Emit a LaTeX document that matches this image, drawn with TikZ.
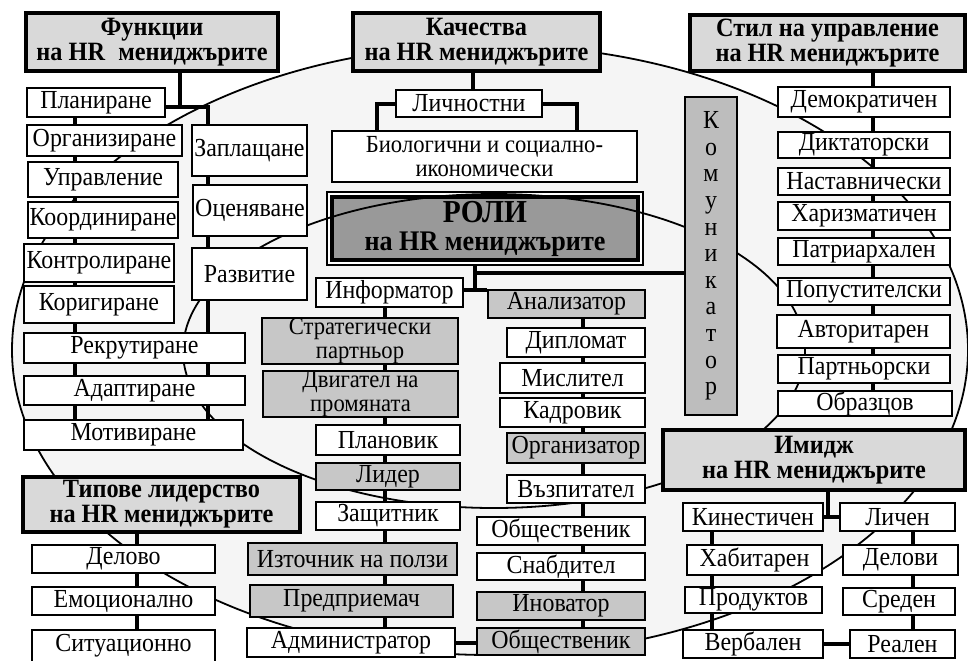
\documentclass[tikz,border=0pt]{standalone}
\usepackage{fontspec}
\setmainfont{Liberation Serif}[FakeStretch=0.92]

\definecolor{bggray}{gray}{0.96}
\definecolor{headgray}{gray}{0.85}
\definecolor{boxgray}{gray}{0.78}
\definecolor{komgray}{gray}{0.74}
\definecolor{rolgray}{gray}{0.60}

\pgfdeclarelayer{back}
\pgfdeclarelayer{lines}
\pgfsetlayers{back,lines,main}

\tikzset{
  wh/.style 2 args={minimum width=#1*0.5pt, minimum height=#2*0.5pt},
  box/.style={draw, line width=1pt, fill=white, inner sep=0pt, align=center,
    font=\fontsize{13}{11.2}\selectfont},
  twoline/.style={font=\fontsize{12.3}{12.3}\selectfont},
  graybox/.style={box, fill=boxgray},
  komubox/.style={box, fill=komgray, font=\fontsize{13}{13.3}\selectfont},
  head/.style={draw, line width=2.2pt, fill=headgray, inner sep=0pt, align=center,
    font=\bfseries\fontsize{13.2}{12.5}\selectfont},
  rolebox/.style={draw, line width=2pt, fill=rolgray, inner sep=0pt, align=center,
    font=\bfseries\fontsize{14.2}{14}\selectfont,
    preaction={draw, line width=5.6pt}, preaction={draw=white, line width=4pt}},
  conn/.style={line width=2pt},
  curve/.style={line width=0.9pt},
}

\begin{document}
\begin{tikzpicture}[x=0.5pt,y=-0.5pt]
  \useasboundingbox (0,0) rectangle (968,660);

  \begin{pgfonlayer}{back}
    \filldraw[curve, fill=bggray] (490,350) ellipse [x radius=478, y radius=305];
  \end{pgfonlayer}

  \node[rolebox] (roli)		at (485,228.5)	[wh={306}{63}]	{{\fontsize{16}{16}\selectfont РОЛИ}\\на HR мениджърите};
  \draw[curve] (494,351) ellipse [x radius=311, y radius=157];

  % Функции
  \node[head] (funkcii)		at (152,42)	[wh={252}{58}]	{Функции\\на HR\enspace мениджърите};
  \node[box] (planirane)	at (96,102.5)	[wh={138}{29}]	{Планиране};
  \node[box] (organizirane)	at (104.5,140.5)	[wh={155}{31}]	{Организиране};
  \node[box] (upravlenie)	at (103,179.5)	[wh={150}{35}]	{Управление};
  \node[box] (koordinirane)	at (103,220)	[wh={150}{36}]	{Координиране};
  \node[box] (kontrolirane)	at (99,263)	[wh={150}{38}]	{Контролиране};
  \node[box] (korigirane)	at (99,304.5)	[wh={150}{37}]	{Коригиране};
  \node[box] (rekrutirane)	at (134.5,348)	[wh={221}{30}]	{Рекрутиране};
  \node[box] (adaptirane)	at (134.5,390.5)	[wh={221}{29}]	{Адаптиране};
  \node[box] (motivirane)	at (133.5,435)	[wh={219}{30}]	{Мотивиране};
  \node[box] (zaplashtane)	at (249.5,150.5)	[wh={115}{51}]	{Заплащане};
  \node[box] (ocenyavane)	at (250,210.5)	[wh={114}{51}]	{Оценяване};
  \node[box] (razvitie)		at (249.5,274)	[wh={115}{52}]	{Развитие};

  % Качества
  \node[head] (kachestva)	at (476.5,42)	[wh={247}{58}]	{Качества\\на HR мениджърите};
  \node[box] (lichnostni)	at (469,103.5)	[wh={146}{27}]	{Личностни};
  \node[box,twoline] (biologichni) at (484.5,156.5)	[wh={305}{51}]	{Биологични и социално-\\икономически};

  % Роли
  \node[box] (informator)	at (389.5,292.5)	[wh={147}{29}]	{Информатор};
  \node[graybox,twoline] (strategicheski) at (360,341)	[wh={196}{46}]	{Стратегически\\партньор};
  \node[graybox,twoline] (dvigatel) at (360.5,394)	[wh={195}{46}]	{Двигател на\\промяната};
  \node[box] (planovik)		at (388,440)	[wh={144}{30}]	{Плановик};
  \node[graybox] (lider)	at (388,476.5)	[wh={144}{27}]	{Лидер};
  \node[box] (zashtitnik)	at (388,516)	[wh={144}{28}]	{Защитник};
  \node[graybox] (iztochnik)	at (352.5,559)	[wh={209}{32}]	{Източник на ползи};
  \node[graybox] (predpriemach)	at (351.5,601)	[wh={203}{32}]	{Предприемач};
  \node[box] (administrator)	at (351,642.5)	[wh={208}{29}]	{Администратор};
  \node[graybox] (analizator)	at (566.5,304)	[wh={157}{28}]	{Анализатор};
  \node[box] (diplomat)		at (576,342.5)	[wh={138}{29}]	{Дипломат};
  \node[box] (mislitel)		at (572.5,378)	[wh={145}{30}]	{Мислител};
  \node[box] (kadrovik)		at (572.5,412.5)	[wh={145}{29}]	{Кадровик};
  \node[graybox] (organizator)	at (576,448)	[wh={138}{30}]	{Организатор};
  \node[box] (vazpitatel)	at (576,489)	[wh={138}{28}]	{Възпитател};
  \node[box] (obshtestvenik-1)	at (561,531)	[wh={168}{28}]	{Общественик};
  \node[box] (snabditel)	at (561,566.5)	[wh={168}{27}]	{Снабдител};
  \node[graybox] (inovator)	at (561,606)	[wh={168}{28}]	{Иноватор};
  \node[graybox] (obshtestvenik-2) at (561,641.5)	[wh={168}{27}]	{Общественик};

  \node[komubox] (komunikator)	at (711,256)	[wh={52}{318}]	{К\\о\\м\\у\\н\\и\\к\\а\\т\\о\\р};

  % Стил на управление
  \node[head] (stil)		at (827.5,43)	[wh={275}{56}]	{Стил на управление\\на HR мениджърите};
  \node[box] (demokratichen)	at (864,102)	[wh={172}{30}]	{Демократичен};
  \node[box] (diktatorski)	at (864,145)	[wh={172}{26}]	{Диктаторски};
  \node[box] (nastavnicheski)	at (864,181.5)	[wh={172}{27}]	{Наставнически};
  \node[box] (harizmatichen)	at (864,216)	[wh={172}{28}]	{Харизматичен};
  \node[box] (patriarhalen)	at (864,251.5)	[wh={172}{27}]	{Патриархален};
  \node[box] (popustitelski)	at (864,291.5)	[wh={172}{27}]	{Попустителски};
  \node[box] (avtoritaren)	at (863.5,331.5)	[wh={173}{33}]	{Авторитарен};
  \node[box] (partnyorski)	at (864,369)	[wh={172}{28}]	{Партньорски};
  \node[box] (obrazcov)		at (865,403.5)	[wh={174}{23}]	{Образцов};

  % Имидж
  \node[head] (imidzh)		at (814,460)	[wh={302}{60}]	{Имидж\\на HR мениджърите};
  \node[box] (kinestichen)	at (753,517)	[wh={140}{28}]	{Кинестичен};
  \node[box] (habitaren)	at (754.5,560)	[wh={135}{30}]	{Хабитарен};
  \node[box] (produktov)	at (753.5,600)	[wh={137}{26}]	{Продуктов};
  \node[box] (verbalen)		at (753,644)	[wh={140}{28}]	{Вербален};
  \node[box] (lichen)		at (897.5,517)	[wh={115}{28}]	{Личен};
  \node[box] (delovi)		at (900.5,560)	[wh={115}{30}]	{Делови};
  \node[box] (sreden)		at (899,601.5)	[wh={112}{27}]	{Среден};
  \node[box] (realen)		at (902.5,644)	[wh={105}{28}]	{Реален};

  % Типове лидерство
  \node[head] (tipove)		at (161.5,504.5)	[wh={277}{55}]	{Типове лидерство\\на HR мениджърите};
  \node[box] (delovo)		at (123.5,559)	[wh={183}{28}]	{Делово};
  \node[box] (emocionalno)	at (123.5,601)	[wh={183}{28}]	{Емоционално};
  \node[box] (situacionno)	at (123.5,646)	[wh={183}{32}]	{Ситуационно};

  \coordinate (funkcii-j) at (180,107);
  \coordinate (funkcii-l) at (75,0);
  \coordinate (funkcii-r) at (208,0);
  \coordinate (kachestva-t) at (473,0);
  \coordinate (kachestva-l) at (377,0);
  \coordinate (kachestva-r) at (577,0);
  \coordinate (roli-j) at (475,290);
  \coordinate (roli-k) at (475,273);
  \coordinate (roli-l) at (385,0);
  \coordinate (roli-r) at (583,0);
  \coordinate (stil-t) at (873,0);
  \coordinate (imidzh-j) at (828,0);
  \coordinate (imidzh-l) at (712,0);
  \coordinate (imidzh-r) at (913,0);
  \coordinate (tipove-t) at (137,0);

  \begin{pgfonlayer}{lines}
  \draw[conn] (funkcii.south -| funkcii-j) -- (funkcii-j);
  \draw[conn] (planirane.east |- funkcii-j) -- (funkcii-j) -| (zaplashtane.north -| funkcii-r);
  \draw[conn] (planirane.south -| funkcii-l) -- (organizirane.north -| funkcii-l);
  \draw[conn] (organizirane.south -| funkcii-l) -- (upravlenie.north -| funkcii-l);
  \draw[conn] (upravlenie.south -| funkcii-l) -- (koordinirane.north -| funkcii-l);
  \draw[conn] (koordinirane.south -| funkcii-l) -- (kontrolirane.north -| funkcii-l);
  \draw[conn] (kontrolirane.south -| funkcii-l) -- (korigirane.north -| funkcii-l);
  \draw[conn] (korigirane.south -| funkcii-l) -- (rekrutirane.north -| funkcii-l);
  \draw[conn] (rekrutirane.south -| funkcii-l) -- (adaptirane.north -| funkcii-l);
  \draw[conn] (adaptirane.south -| funkcii-l) -- (motivirane.north -| funkcii-l);
  \draw[conn] (zaplashtane.south -| funkcii-r) -- (ocenyavane.north -| funkcii-r);
  \draw[conn] (ocenyavane.south -| funkcii-r) -- (razvitie.north -| funkcii-r);
  \draw[conn] (razvitie.south -| funkcii-r) -- (motivirane.north -| funkcii-r);

  \draw[conn] (kachestva.south -| kachestva-t) -- (lichnostni.north -| kachestva-t);
  \draw[conn] (lichnostni.west) -| (biologichni.north -| kachestva-l);
  \draw[conn] (lichnostni.east) -| (biologichni.north -| kachestva-r);

  \draw[conn] (roli.south -| roli-j) -- (roli-j);
  \draw[conn] (informator.east |- roli-j) -- (analizator.west |- roli-j);
  \draw[conn] (roli-k) -- (komunikator.west |- roli-k);
  \draw[conn] (informator.south -| roli-l) -- (strategicheski.north -| roli-l);
  \draw[conn] (strategicheski.south -| roli-l) -- (dvigatel.north -| roli-l);
  \draw[conn] (dvigatel.south -| roli-l) -- (planovik.north -| roli-l);
  \draw[conn] (planovik.south -| roli-l) -- (lider.north -| roli-l);
  \draw[conn] (lider.south -| roli-l) -- (zashtitnik.north -| roli-l);
  \draw[conn] (zashtitnik.south -| roli-l) -- (iztochnik.north -| roli-l);
  \draw[conn] (iztochnik.south -| roli-l) -- (predpriemach.north -| roli-l);
  \draw[conn] (predpriemach.south -| roli-l) -- (administrator.north -| roli-l);
  \draw[conn] (analizator.south -| roli-r) -- (diplomat.north -| roli-r);
  \draw[conn] (diplomat.south -| roli-r) -- (mislitel.north -| roli-r);
  \draw[conn] (mislitel.south -| roli-r) -- (kadrovik.north -| roli-r);
  \draw[conn] (kadrovik.south -| roli-r) -- (organizator.north -| roli-r);
  \draw[conn] (organizator.south -| roli-r) -- (vazpitatel.north -| roli-r);
  \draw[conn] (vazpitatel.south -| roli-r) -- (obshtestvenik-1.north -| roli-r);
  \draw[conn] (obshtestvenik-1.south -| roli-r) -- (snabditel.north -| roli-r);
  \draw[conn] (snabditel.south -| roli-r) -- (inovator.north -| roli-r);
  \draw[conn] (inovator.south -| roli-r) -- (obshtestvenik-2.north -| roli-r);
  \draw[conn] (administrator.east) -- (obshtestvenik-2.west |- administrator.east);

  \draw[conn] (stil.south -| stil-t) -- (demokratichen.north -| stil-t);
  \draw[conn] (demokratichen.south -| stil-t) -- (diktatorski.north -| stil-t);
  \draw[conn] (diktatorski.south -| stil-t) -- (nastavnicheski.north -| stil-t);
  \draw[conn] (nastavnicheski.south -| stil-t) -- (harizmatichen.north -| stil-t);
  \draw[conn] (harizmatichen.south -| stil-t) -- (patriarhalen.north -| stil-t);
  \draw[conn] (patriarhalen.south -| stil-t) -- (popustitelski.north -| stil-t);
  \draw[conn] (popustitelski.south -| stil-t) -- (avtoritaren.north -| stil-t);
  \draw[conn] (avtoritaren.south -| stil-t) -- (partnyorski.north -| stil-t);
  \draw[conn] (partnyorski.south -| stil-t) -- (obrazcov.north -| stil-t);

  \draw[conn] (imidzh.south -| imidzh-j) -- (kinestichen.east -| imidzh-j);
  \draw[conn] (kinestichen.east) -- (lichen.west);
  \draw[conn] (kinestichen.south -| imidzh-l) -- (habitaren.north -| imidzh-l);
  \draw[conn] (habitaren.south -| imidzh-l) -- (produktov.north -| imidzh-l);
  \draw[conn] (produktov.south -| imidzh-l) -- (verbalen.north -| imidzh-l);
  \draw[conn] (lichen.south -| imidzh-r) -- (delovi.north -| imidzh-r);
  \draw[conn] (delovi.south -| imidzh-r) -- (sreden.north -| imidzh-r);
  \draw[conn] (sreden.south -| imidzh-r) -- (realen.north -| imidzh-r);
  \draw[conn] (verbalen.east) -- (realen.west);

  \draw[conn] (tipove.south -| tipove-t) -- (delovo.north -| tipove-t);
  \draw[conn] (delovo.south -| tipove-t) -- (emocionalno.north -| tipove-t);
  \draw[conn] (emocionalno.south -| tipove-t) -- (situacionno.north -| tipove-t);
  \end{pgfonlayer}
\end{tikzpicture}
\end{document}
